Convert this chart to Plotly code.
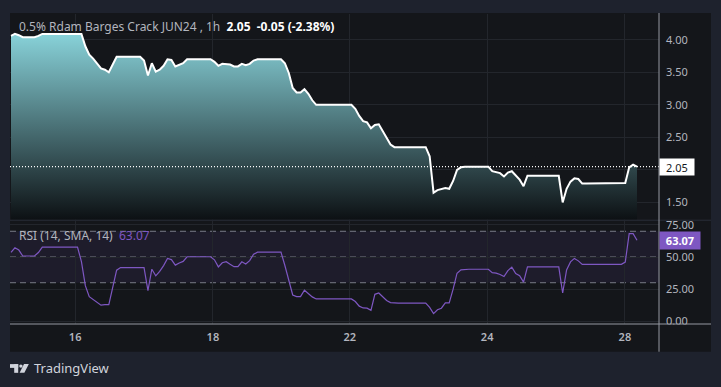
import plotly.graph_objects as go

# ---------------- data ----------------
bars = list(range(161))  # hourly bar index

price = [
    4.06, 4.09, 4.07, 4.04, 4.04, 4.04, 4.04, 4.06, 4.09, 4.09,
    4.09, 4.09, 4.09, 4.09, 4.09, 4.09, 4.09, 4.09, 4.09, 3.90,
    3.77, 3.71, 3.63, 3.56, 3.54, 3.50, 3.62, 3.74, 3.74, 3.74,
    3.74, 3.74, 3.74, 3.74, 3.68, 3.45, 3.64, 3.51, 3.54, 3.60,
    3.70, 3.69, 3.59, 3.61, 3.64, 3.70, 3.70, 3.70, 3.70, 3.70,
    3.70, 3.70, 3.66, 3.60, 3.63, 3.63, 3.62, 3.59, 3.59, 3.63,
    3.61, 3.63, 3.68, 3.70, 3.70, 3.70, 3.70, 3.70, 3.70, 3.70,
    3.64, 3.49, 3.26, 3.19, 3.19, 3.24, 3.17, 3.07, 3.00, 3.00,
    3.00, 3.00, 3.00, 3.00, 3.00, 3.00, 3.00, 3.00, 2.94, 2.83,
    2.75, 2.73, 2.64, 2.69, 2.70, 2.60, 2.49, 2.39, 2.35, 2.35,
    2.35, 2.35, 2.35, 2.35, 2.35, 2.35, 2.35, 2.21, 1.65, 1.69,
    1.70, 1.72, 1.71, 1.83, 2.00, 2.04, 2.05, 2.05, 2.05, 2.05,
    2.05, 2.05, 2.05, 1.98, 1.96, 1.95, 1.90, 1.96, 1.98, 1.91,
    1.85, 1.75, 1.91, 1.91, 1.91, 1.91, 1.91, 1.91, 1.91, 1.91,
    1.91, 1.50, 1.71, 1.82, 1.87, 1.86, 1.79, 1.79, 1.79, 1.79,
    1.79, 1.79, 1.79, 1.79, 1.79, 1.79, 1.79, 1.80, 2.04, 2.08,
    2.05,
]

rsi = [
    53.6, 57.2, 55.4, 50.8, 50.8, 50.8, 50.8, 53.5, 57.7, 57.7,
    57.7, 57.7, 57.7, 57.7, 57.7, 57.7, 57.7, 57.7, 46.4, 27.7,
    19.2, 17.0, 14.6, 12.6, 13.0, 13.0, 26.4, 39.8, 41.8, 41.8,
    41.8, 41.8, 41.8, 41.8, 41.8, 23.8, 40.5, 35.4, 38.8, 43.3,
    48.9, 48.0, 43.7, 45.4, 46.6, 50.2, 50.2, 50.2, 50.2, 50.2,
    50.2, 50.2, 47.8, 42.3, 45.5, 46.4, 44.3, 42.5, 42.5, 46.3,
    44.6, 47.2, 52.1, 53.8, 53.8, 53.8, 53.8, 53.8, 53.8, 53.8,
    43.4, 31.9, 20.5, 19.2, 19.2, 24.2, 21.7, 19.0, 17.4, 17.4,
    17.4, 17.4, 17.4, 17.4, 17.4, 17.4, 17.4, 17.4, 15.4, 11.8,
    10.4, 10.2, 8.5, 21.0, 22.0, 18.8, 16.2, 14.6, 14.1, 14.1,
    14.1, 14.1, 14.1, 14.1, 14.1, 14.1, 14.1, 10.8, 6.0, 9.0,
    10.2, 14.3, 14.3, 25.0, 37.4, 40.0, 40.5, 40.5, 40.5, 40.5,
    40.5, 40.5, 40.5, 37.8, 37.5, 36.4, 34.8, 39.4, 42.1, 37.2,
    35.5, 30.5, 42.3, 42.3, 42.3, 42.3, 42.3, 42.3, 42.3, 42.3,
    42.3, 22.0, 40.0, 46.2, 48.9, 47.0, 44.3, 44.3, 44.3, 44.3,
    44.3, 44.3, 44.3, 44.3, 44.3, 44.3, 44.3, 46.1, 68.2, 68.2,
    63.07,
]

day_tick_pos = [16.4, 51.6, 86.6, 121.7, 156.9]
day_tick_text = ["16", "18", "22", "24", "28"]
price_ticks = [1.5, 2.0, 2.5, 3.0, 3.5, 4.0]
rsi_ticks = [0, 25, 50, 75]
rsi_levels = [30, 50, 70]

symbol = "0.5% Rdam Barges Crack JUN24 , 1h"
last_price = 2.05
change = -0.05
change_pct = -2.38
rsi_name = "RSI (14, SMA, 14)"
rsi_last = 63.07

# ---------------- layout geometry ----------------
W, H = 721, 387
ML, MR, MT, MB = 10, 62, 11, 63
PW, PH = W - ML - MR, H - MT - MB


def px(x):
    return (x - ML) / PW


def py(y):
    return (H - MB - y) / PH


PAGE = "#1e222d"
PANE = "#14161a"
GRID = "#23262c"
TXT = "#b2b5be"
AXLINE = "#9598a1"
PURPLE = "#7e57c2"
FONT = "Noto Sans"

fig = go.Figure()

fig.add_trace(go.Scatter(
    x=bars, y=price, mode="lines",
    line=dict(color="#ffffff", width=2),
    fill="tozeroy",
    fillgradient=dict(type="vertical",
                      colorscale=[[0, "#0b0e11"], [1, "#88d2d9"]],
                      start=1.233, stop=4.09),
    xaxis="x", yaxis="y", hoverinfo="skip", showlegend=False,
))

fig.add_trace(go.Scatter(
    x=bars, y=rsi, mode="lines",
    line=dict(color=PURPLE, width=1.2),
    xaxis="x", yaxis="y2", hoverinfo="skip", showlegend=False,
))

shapes = [
    # chart frame background
    dict(type="rect", xref="paper", yref="paper", x0=px(10), x1=px(711),
         y0=py(352), y1=py(10), fillcolor=PANE, line=dict(width=0), layer="below"),
    # RSI band
    dict(type="rect", xref="paper", yref="y2", x0=0, x1=1, y0=rsi_levels[0], y1=rsi_levels[-1],
         fillcolor="rgba(126,87,194,0.10)", line=dict(width=0), layer="below"),
]
for lv in rsi_levels:
    shapes.append(dict(type="line", xref="paper", yref="y2", x0=0, x1=1, y0=lv, y1=lv,
                       line=dict(color="#787b86", width=1, dash="6px,4px"), layer="below"))

shapes += [
    # last price dotted line
    dict(type="line", xref="paper", yref="y", x0=0, x1=1, y0=last_price, y1=last_price,
         line=dict(color="#ffffff", width=1.2, dash="1px,2px"), layer="above"),
    # clip covers for partially hidden rsi labels
    dict(type="rect", xref="paper", yref="paper", x0=px(660), x1=px(711),
         y0=py(219.0), y1=py(209), fillcolor=PANE, line=dict(width=0), layer="above"),
    dict(type="rect", xref="paper", yref="paper", x0=px(660), x1=px(711),
         y0=py(333), y1=py(324.5), fillcolor=PANE, line=dict(width=0), layer="above"),
    # pane separator
    dict(type="line", xref="paper", yref="paper", x0=0, x1=px(711), y0=py(219.2), y1=py(219.2),
         line=dict(color="#2a2e39", width=1), layer="above"),
    # time axis line
    dict(type="line", xref="paper", yref="paper", x0=0, x1=px(711), y0=0, y1=0,
         line=dict(color=AXLINE, width=1), layer="above"),
    # price axis line
    dict(type="line", xref="paper", yref="paper", x0=1, x1=1, y0=py(352), y1=py(10),
         line=dict(color=AXLINE, width=1), layer="above"),
]

# TradingView logo (decoration)
logo_col = "#d1d4dc"
shapes += [
    dict(type="rect", xref="paper", yref="paper", x0=px(10), x1=px(18.2), y0=py(368.3), y1=py(364.5),
         fillcolor=logo_col, line=dict(width=0)),
    dict(type="rect", xref="paper", yref="paper", x0=px(14.2), x1=px(18.2), y0=py(373.3), y1=py(364.5),
         fillcolor=logo_col, line=dict(width=0)),
    dict(type="circle", xref="paper", yref="paper", x0=px(19.2), x1=px(22.6), y0=py(368.2), y1=py(364.8),
         fillcolor=logo_col, line=dict(width=0)),
    dict(type="path", xref="paper", yref="paper",
         path=f"M {px(24.0)} {py(364.5)} L {px(28.8)} {py(364.5)} L {px(24.4)} {py(373.3)} "
              f"L {px(19.6)} {py(373.3)} Z",
         fillcolor=logo_col, line=dict(width=0)),
]

sign = "+" if change >= 0 else ""
title_html = (
    f"<span style='color:{TXT}'>{symbol}</span>\u00a0\u00a0"
    f"<span style='color:#ffffff'><b>{last_price:.2f}\u00a0\u00a0{sign}{change:.2f} ({sign}{change_pct:.2f}%)</b></span>"
)

annotations = [
    dict(xref="paper", yref="paper", x=px(17), y=py(24.0), xanchor="left", yanchor="middle",
         text=title_html, showarrow=False, font=dict(family=FONT, size=12, color=TXT)),
    dict(xref="paper", yref="paper", x=px(17), y=py(234.5), xanchor="left", yanchor="middle",
         text=f"<span style='color:{TXT}'>{rsi_name}</span>\u00a0\u00a0<span style='color:{PURPLE}'>{rsi_last:.2f}</span>",
         showarrow=False, font=dict(family=FONT, size=12, color=TXT)),
    dict(xref="paper", yref="y", x=1, y=last_price, xanchor="left", yanchor="middle",
         text=f"{last_price:.2f}", showarrow=False, bgcolor="#ffffff", width=32, height=14,
         borderpad=1, font=dict(family=FONT, size=11, color="#131722")),
    dict(xref="paper", yref="y2", x=1, y=rsi_last, xanchor="left", yanchor="middle",
         text=f"<b>{rsi_last:.2f}</b>", showarrow=False, bgcolor=PURPLE, width=38, height=15,
         borderpad=1, font=dict(family=FONT, size=11, color="#ffffff")),
    dict(xref="paper", yref="paper", x=px(32), y=py(368.5), xanchor="left", yanchor="middle",
         text="TradingView", showarrow=False, font=dict(family=FONT, size=13, color=logo_col)),
]

# 2.00 label is hidden under the last-price box in the reference
price_tick_text = ["" if abs(v - 2.0) < 1e-9 else f"{v:.2f}" for v in price_ticks]

fig.update_layout(
    width=W, height=H,
    margin=dict(l=ML, r=MR, t=MT, b=MB, pad=0),
    paper_bgcolor=PAGE, plot_bgcolor="rgba(0,0,0,0)",
    font=dict(family=FONT, size=11, color=TXT),
    showlegend=False,
    xaxis=dict(domain=[0, 1], range=[-0.2556, 165.62], anchor="y2",
               tickmode="array", tickvals=day_tick_pos, ticktext=day_tick_text,
               showgrid=True, gridcolor=GRID, gridwidth=1, zeroline=False, showline=False,
               ticks="outside", ticklen=3, tickcolor="rgba(0,0,0,0)",
               tickfont=dict(family=FONT, size=11, color=TXT, weight=600),
               fixedrange=True),
    yaxis=dict(domain=[py(218.8), 1], range=[1.233, 4.396], anchor="x", side="right",
               tickmode="array", tickvals=price_ticks, ticktext=price_tick_text,
               showgrid=True, gridcolor=GRID, gridwidth=1, zeroline=False, showline=False,
               ticks="", ticklabelstandoff=6, tickfont=dict(family=FONT, size=11, color=TXT)),
    yaxis2=dict(domain=[0, py(219.6)], range=[-2.08, 78.3], anchor="x", side="right",
                tickmode="array", tickvals=rsi_ticks, ticktext=[f"{v:.2f}" for v in rsi_ticks],
                showgrid=True, gridcolor=GRID, gridwidth=1, zeroline=False, showline=False,
                ticks="", ticklabelstandoff=6, ticklabeloverflow="allow",
                tickfont=dict(family=FONT, size=11, color=TXT)),
    shapes=shapes,
    annotations=annotations,
)

fig.write_html(
    "out.html",
    config={"displayModeBar": False, "responsive": False},
    post_script="document.body.style.margin='0';document.body.style.padding='0';"
                "document.body.style.overflow='hidden';document.body.style.background='#1e222d';",
)
